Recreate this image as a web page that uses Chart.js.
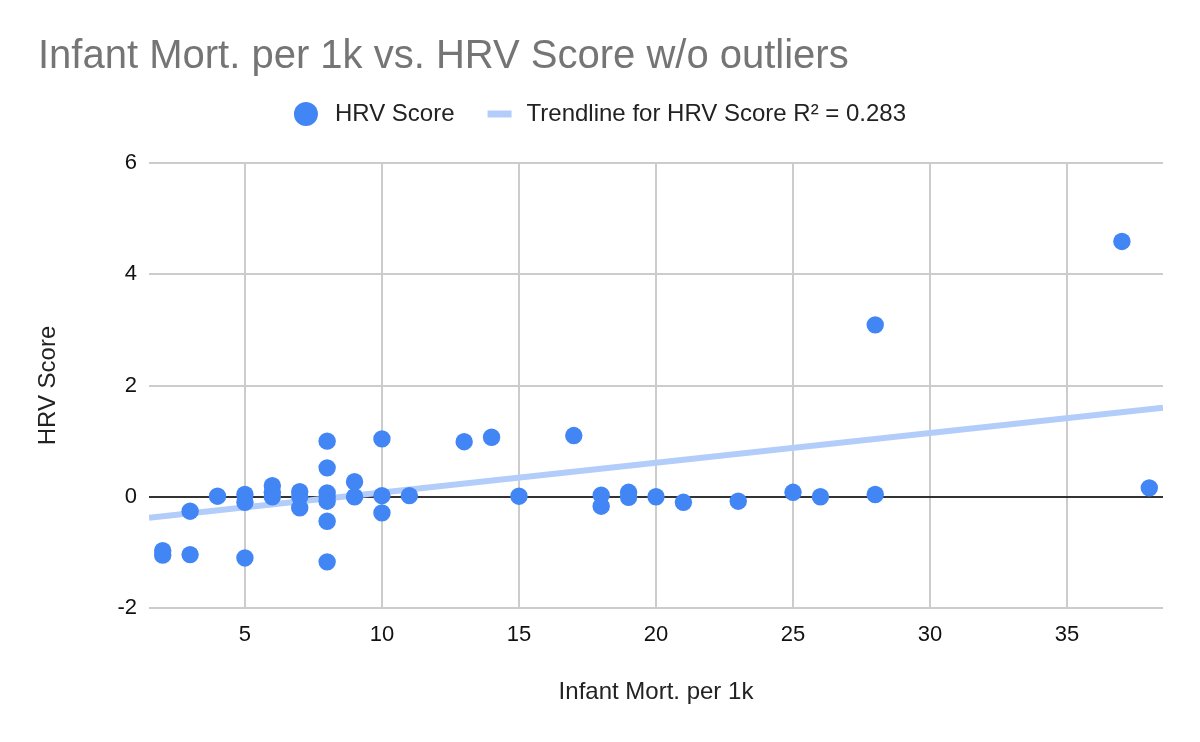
<!DOCTYPE html>
<html>
<head>
<meta charset="utf-8">
<script src="https://cdn.jsdelivr.net/npm/chart.js@4/dist/chart.umd.min.js"></script>
<style>
  html, body { margin: 0; padding: 0; background: #fff; }
  #wrap { width: 1200px; height: 742px; }
</style>
</head>
<body>
<div id="wrap"><canvas id="chart" width="1200" height="742"></canvas></div>
<script>
const chartTitle = 'Infant Mort. per 1k vs. HRV Score w/o outliers';
const seriesName = 'HRV Score';
const trendName = 'Trendline for HRV Score R\u00B2 = 0.283';

// x = infant mortality per 1k, y = HRV score
const infantMort = [2, 2, 3, 3, 4, 5, 5, 5, 6, 6, 6, 7, 7, 7, 8, 8, 8, 8, 8, 8, 8,
  9, 9, 10, 10, 10, 11, 13, 14, 15, 17, 18, 18, 19, 19, 20, 21, 23, 25, 26, 28, 28, 37, 38];
const hrvScore = [-0.97, -1.05, -1.04, -0.26, 0.01, 0.04, -0.1, -1.1, 0.2, 0.08, 0.0, 0.09, 0.0, -0.2,
  1.0, 0.52, 0.07, 0.0, -0.08, -0.44, -1.17, 0.27, 0.0, 1.04, 0.02, -0.29, 0.02, 0.99, 1.07, 0.01,
  1.1, 0.03, -0.17, 0.08, -0.01, 0.0, -0.1, -0.08, 0.08, 0.0, 3.09, 0.04, 4.59, 0.16];

// trendline end points as drawn
const trendX = [1.5, 38.5];
const trendY = [-0.38, 1.6];

const xTicks = [5, 10, 15, 20, 25, 30, 35];
const yTicks = [-2, 0, 2, 4, 6];

const pointColor = '#4285f4';
const trendColor = '#b3cdfb';
const FONT = '"Liberation Sans", Arial, sans-serif';

const points = infantMort.map((x, i) => ({ x: x, y: hrvScore[i] }));
const trend = trendX.map((x, i) => ({ x: x, y: trendY[i] }));

// title + legend drawn on top area
const headerPlugin = {
  id: 'header',
  afterDraw(chart) {
    const ctx = chart.ctx;
    ctx.save();
    ctx.fillStyle = '#757575';
    ctx.font = '40px ' + FONT;
    ctx.textBaseline = 'alphabetic';
    ctx.textAlign = 'left';
    ctx.fillText(chartTitle, 38, 68);

    ctx.font = '24px ' + FONT;
    const w1 = ctx.measureText(seriesName).width;
    const w2 = ctx.measureText(trendName).width;
    const total = 24 + 17 + w1 + 33 + 24 + 15 + w2;
    let x = 600 - total / 2;
    const cy = 114;
    ctx.fillStyle = pointColor;
    ctx.beginPath();
    ctx.arc(x + 12, cy, 12, 0, Math.PI * 2);
    ctx.fill();
    x += 24 + 17;
    ctx.fillStyle = '#222';
    ctx.textBaseline = 'middle';
    ctx.fillText(seriesName, x, cy);
    x += w1 + 33;
    ctx.fillStyle = trendColor;
    ctx.fillRect(x, cy - 3.5, 24, 7);
    x += 24 + 15;
    ctx.fillStyle = '#222';
    ctx.fillText(trendName, x, cy);
    ctx.restore();
  }
};

new Chart(document.getElementById('chart'), {
  type: 'scatter',
  data: {
    datasets: [
      {
        label: seriesName,
        data: points,
        backgroundColor: pointColor,
        borderWidth: 0,
        pointRadius: 8.7,
        pointHoverRadius: 8.7,
        order: 0
      },
      {
        type: 'line',
        label: trendName,
        data: trend,
        borderColor: trendColor,
        borderWidth: 6,
        pointRadius: 0,
        fill: false,
        order: 1
      }
    ]
  },
  options: {
    responsive: false,
    animation: false,
    devicePixelRatio: 1,
    layout: { padding: { top: 163, right: 37, left: 0, bottom: 0 } },
    plugins: {
      legend: { display: false },
      title: { display: false },
      tooltip: { enabled: false }
    },
    scales: {
      x: {
        type: 'linear',
        min: 1.5,
        max: 38.5,
        afterFit: s => { s.height = 134; },
        afterBuildTicks: s => { s.ticks = xTicks.map(v => ({ value: v })); },
        border: { display: false },
        grid: { color: '#cccccc', lineWidth: 2, drawTicks: false },
        ticks: { color: '#111', font: { family: FONT, size: 22 }, padding: 14, maxRotation: 0 },
        title: {
          display: true,
          text: 'Infant Mort. per 1k',
          color: '#222',
          font: { family: FONT, size: 24 },
          padding: { top: 35, bottom: 35 }
        }
      },
      y: {
        type: 'linear',
        min: -2,
        max: 6,
        afterFit: s => { s.width = 149; },
        afterBuildTicks: s => { s.ticks = yTicks.map(v => ({ value: v })); },
        border: { display: false },
        grid: {
          color: c => (c.tick && c.tick.value === 0 ? '#333333' : '#cccccc'),
          lineWidth: 2,
          drawTicks: false
        },
        ticks: { color: '#111', font: { family: FONT, size: 22 }, padding: 12 },
        title: {
          display: true,
          text: 'HRV Score',
          color: '#222',
          font: { family: FONT, size: 24 },
          padding: { top: 34, bottom: 34 }
        }
      }
    }
  },
  plugins: [headerPlugin]
});
</script>
</body>
</html>
